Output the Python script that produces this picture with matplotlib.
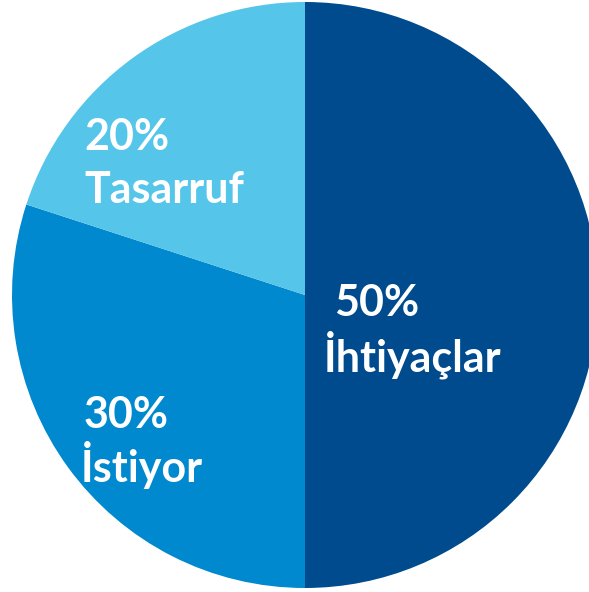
import numpy as np
import matplotlib.pyplot as plt

# pay dilimleri
names = ["İhtiyaçlar", "İstiyor", "Tasarruf"]
shares = [50, 30, 20]
colors = ["#004B8D", "#0089CF", "#55C6E9"]

W, H = 589, 592
cx, cy, r = 305, 295, 293  # piksel cinsinden merkez ve yarıçap

fig = plt.figure(figsize=(W / 100, H / 100), dpi=100)
ax = fig.add_axes([0, 0, 1, 1])
ax.pie(shares, colors=colors, startangle=90, counterclock=False,
       wedgeprops=dict(linewidth=0))
ax.set_xlim(-cx / r, (W - cx) / r)
ax.set_ylim(-(H - cy) / r, cy / r)
ax.set_aspect("equal")
ax.axis("off")

# etiket konumları (piksel: x sol kenar, yüzde satırı ve isim satırı taban çizgisi)
label_pos = [(334, 324, 316, 372), (84, 81, 428, 482), (84, 84, 150, 203)]


def to_data(px, py):
    return (px - cx) / r, (cy - py) / r


for name, share, (x1, x2, y1, y2) in zip(names, shares, label_pos):
    ax.text(*to_data(x1, y1), f"{share}%", color="white", fontsize=31,
            fontweight="bold", family="Lato", ha="left", va="baseline")
    ax.text(*to_data(x2, y2), name, color="white", fontsize=31,
            fontweight="bold", family="Lato", ha="left", va="baseline")

fig.savefig("out.png", dpi=100)
